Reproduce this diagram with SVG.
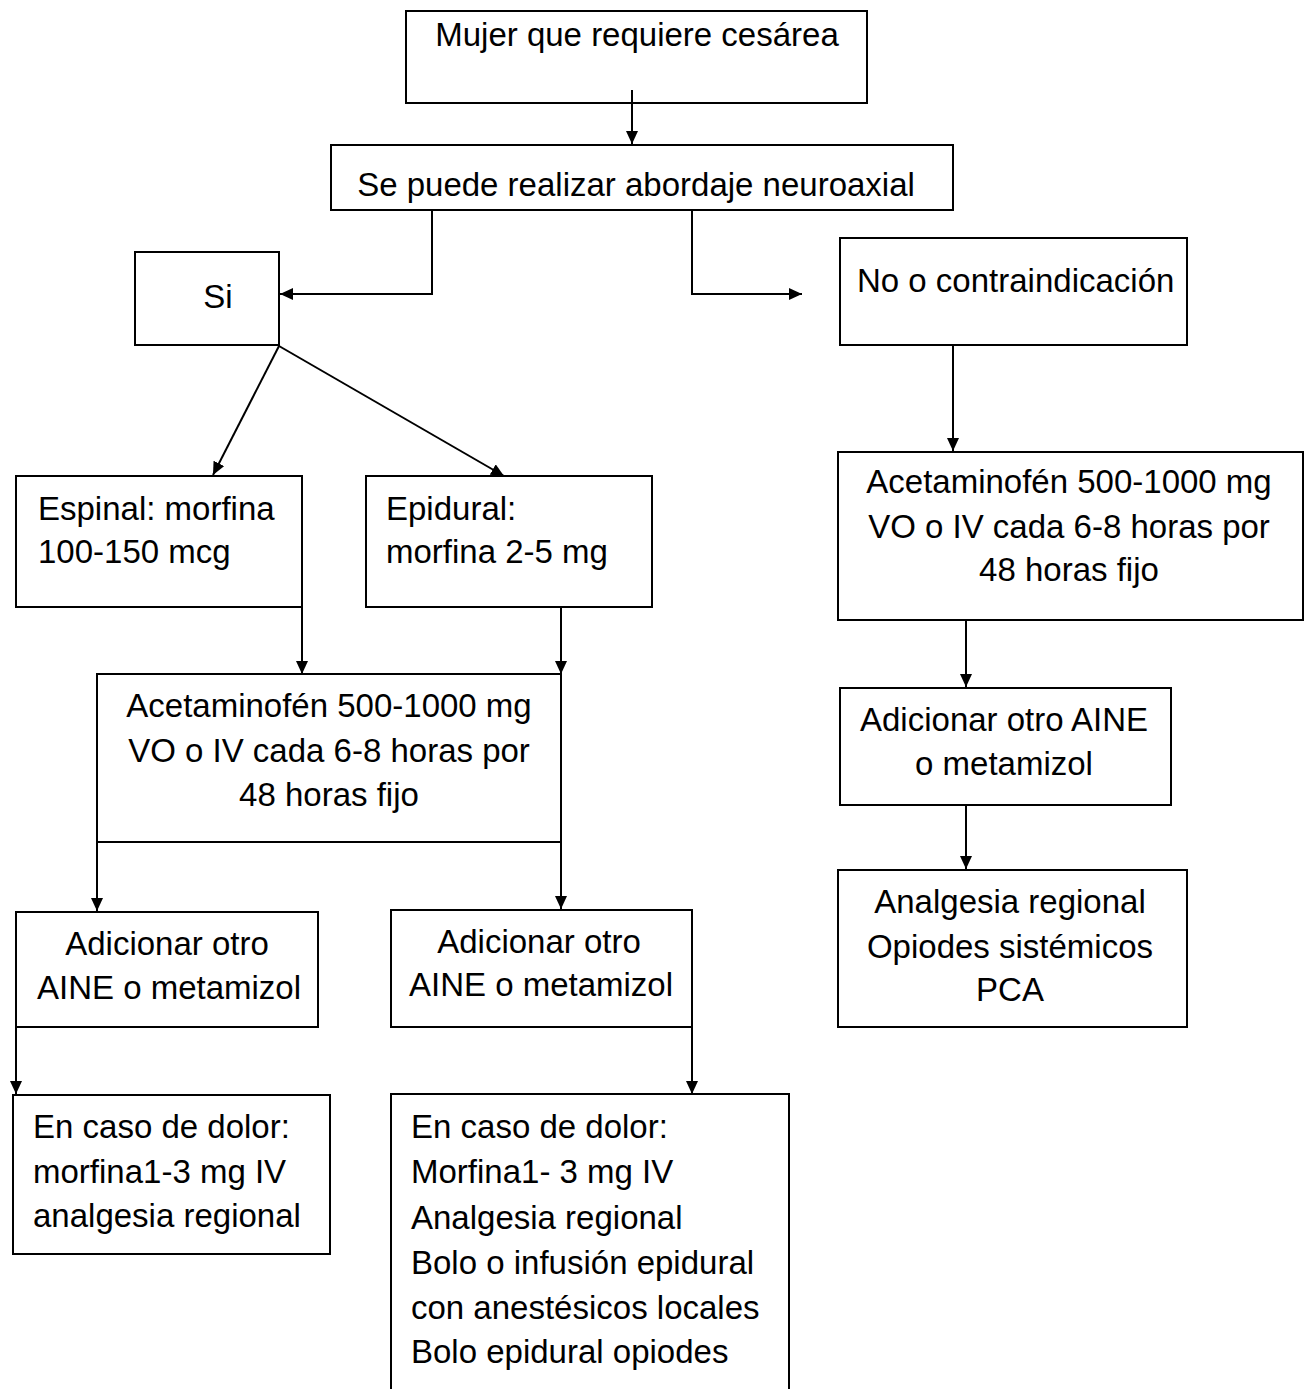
<svg xmlns="http://www.w3.org/2000/svg" width="1313" height="1389" viewBox="0 0 1313 1389">
<style>
.box{fill:#fff;stroke:#000;stroke-width:2}
.t{font-family:"Liberation Sans",Arial,sans-serif;font-size:33px;fill:#000}
.c{text-anchor:middle}
.con{fill:none;stroke:#000;stroke-width:2}
</style>
<defs>
<marker id="ah" markerUnits="userSpaceOnUse" markerWidth="14" markerHeight="12" refX="13" refY="6" orient="auto">
<path d="M0,0 L13,6 L0,12 z" fill="#000"/>
</marker>
</defs>
<rect width="1313" height="1389" fill="#fff"/>
<g id="n1"><rect class="box" x="406" y="11" width="461" height="92"/><text class="t c" x="637" y="46">Mujer que requiere cesárea</text></g>
<g id="n2"><rect class="box" x="331" y="145" width="622" height="65"/><text class="t c" x="636" y="196">Se puede realizar abordaje neuroaxial</text></g>
<g id="n3"><rect class="box" x="135" y="252" width="144" height="93"/><text class="t c" x="218" y="308">Si</text></g>
<g id="n4"><rect class="box" x="840" y="238" width="347" height="107"/><text class="t" x="857" y="292">No o contraindicación</text></g>
<g id="n5"><rect class="box" x="838" y="452" width="465" height="168"/><text class="t c" x="1069" y="493">Acetaminofén 500-1000 mg</text><text class="t c" x="1069" y="538">VO o IV cada 6-8 horas por</text><text class="t c" x="1069" y="581">48 horas fijo</text></g>
<g id="n6"><rect class="box" x="840" y="688" width="331" height="117"/><text class="t c" x="1004" y="731">Adicionar otro AINE</text><text class="t c" x="1004" y="775">o metamizol</text></g>
<g id="n7"><rect class="box" x="838" y="870" width="349" height="157"/><text class="t c" x="1010" y="913">Analgesia regional</text><text class="t c" x="1010" y="958">Opiodes sistémicos</text><text class="t c" x="1010" y="1001">PCA</text></g>
<g id="n8"><rect class="box" x="16" y="476" width="286" height="131"/><text class="t" x="38" y="520">Espinal: morfina</text><text class="t" x="38" y="563">100-150 mcg</text></g>
<g id="n9"><rect class="box" x="366" y="476" width="286" height="131"/><text class="t" x="386" y="520">Epidural:</text><text class="t" x="386" y="563">morfina 2-5 mg</text></g>
<g id="n10"><rect class="box" x="97" y="674" width="464" height="168"/><text class="t c" x="329" y="717">Acetaminofén 500-1000 mg</text><text class="t c" x="329" y="762">VO o IV cada 6-8 horas por</text><text class="t c" x="329" y="806">48 horas fijo</text></g>
<g id="n11"><rect class="box" x="16" y="912" width="302" height="115"/><text class="t c" x="167" y="955">Adicionar otro</text><text class="t c" x="169" y="999">AINE o metamizol</text></g>
<g id="n12"><rect class="box" x="391" y="910" width="301" height="117"/><text class="t c" x="539" y="953">Adicionar otro</text><text class="t c" x="541" y="996">AINE o metamizol</text></g>
<g id="n13"><rect class="box" x="13" y="1095" width="317" height="159"/><text class="t" x="33" y="1138">En caso de dolor:</text><text class="t" x="33" y="1183">morfina1-3 mg IV</text><text class="t" x="33" y="1227">analgesia regional</text></g>
<g id="n14"><rect class="box" x="391" y="1094" width="398" height="310"/><text class="t" x="411" y="1138">En caso de dolor:</text><text class="t" x="411" y="1183">Morfina1- 3 mg IV</text><text class="t" x="411" y="1229">Analgesia regional</text><text class="t" x="411" y="1274">Bolo o infusión epidural</text><text class="t" x="411" y="1319">con anestésicos locales</text><text class="t" x="411" y="1363">Bolo epidural opiodes</text></g>
<g id="connectors">
<path class="con" marker-end="url(#ah)" d="M632,90 V144"/>
<path class="con" marker-end="url(#ah)" d="M432,210 V294 H280"/>
<path class="con" marker-end="url(#ah)" d="M692,210 V294 H802"/>
<path class="con" marker-end="url(#ah)" d="M279,346 L213,475"/>
<path class="con" marker-end="url(#ah)" d="M279,346 L504,476"/>
<path class="con" marker-end="url(#ah)" d="M953,345 V451"/>
<path class="con" marker-end="url(#ah)" d="M966,620 V687"/>
<path class="con" marker-end="url(#ah)" d="M966,805 V869"/>
<path class="con" marker-end="url(#ah)" d="M302,607 V674"/>
<path class="con" marker-end="url(#ah)" d="M561,607 V674"/>
<path class="con" marker-end="url(#ah)" d="M97,842 V911"/>
<path class="con" marker-end="url(#ah)" d="M561,842 V909"/>
<path class="con" marker-end="url(#ah)" d="M16,1027 V1094"/>
<path class="con" marker-end="url(#ah)" d="M692,1027 V1094"/>
</g>
</svg>
